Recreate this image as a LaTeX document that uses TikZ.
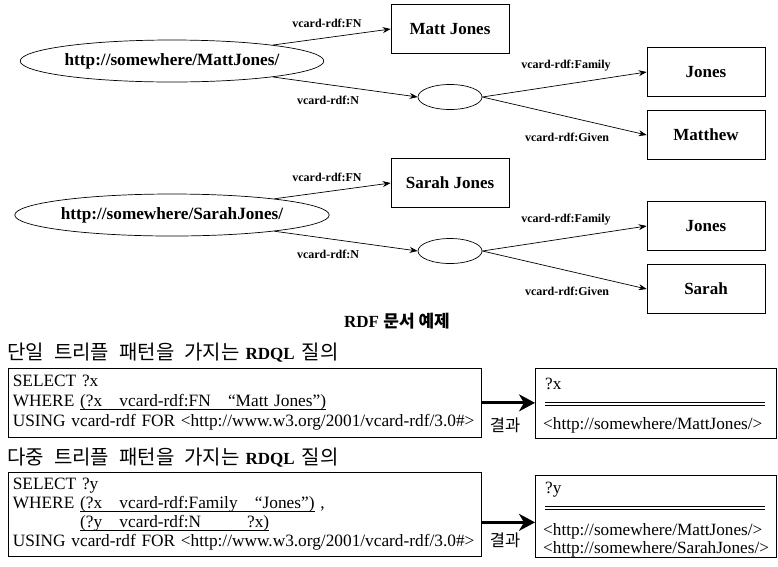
\documentclass[tikz,border=0pt]{standalone}
\usepackage{fontspec}
\setmainfont{Liberation Serif}
\newfontfamily\kr{Noto Sans CJK KR}
\usetikzlibrary{arrows.meta,shapes.geometric}
\newcommand\myul[1]{\setbox0\hbox{#1}\rlap{\rule[-3pt]{\wd0}{0.6pt}}\box0}
\begin{document}
\begin{tikzpicture}[x=1pt,y=-1pt,
  every node/.style={inner sep=0pt},
  uri/.style={draw, ellipse, line width=0.7pt, minimum width=285pt, minimum height=42pt, font=\bfseries\fontsize{17.2}{19}\selectfont},
  blank/.style={draw, ellipse, line width=0.7pt, minimum width=64pt, minimum height=25pt},
  val/.style={draw, line width=0.7pt, minimum width=118pt, minimum height=49pt, font=\bfseries\fontsize{17}{19}\selectfont},
  lbl/.style={font=\bfseries\fontsize{12}{14}\selectfont},
  edge/.style={line width=0.7pt, -{Stealth[length=8pt,width=6pt]}},
  qbox/.style={draw, line width=0.7pt, minimum width=473pt, text width=464pt, align=left},
  rbox/.style={draw, line width=0.7pt, minimum width=241pt},
  rtxt/.style={anchor=west, font=\fontsize{17.2}{20}\selectfont},
  big/.style={line width=3pt, -{Stealth[length=16pt,width=17pt,inset=5pt]}},
  kor/.style={font=\kr\fontsize{16.5}{18}\selectfont},
  ttl/.style={anchor=west, font=\kr\fontsize{20}{22}\selectfont},
]
\useasboundingbox (0,0) rectangle (778,566);

% ---- group 1
\node[uri] (u1) at (172,61) {http://somewhere/MattJones/};
\node[val] (mj) at (450,29) {Matt Jones};
\node[blank] (b1) at (450,97) {};
\node[val] (j1) at (706,72) {Jones};
\node[val] (mw) at (706,135) {Matthew};
\draw[edge] (u1.9) -- (mj.west);
\draw[edge] (u1.-9) -- (b1.west);
\draw[edge] (b1.east) -- (j1.west);
\draw[edge] (b1.east) -- (mw.west);
\node[lbl] (l1) at (327,23) {vcard-rdf:FN};
\node[lbl] (l2) at (328,100) {vcard-rdf:N};
\node[lbl] (l3) at (566,66) {vcard-rdf:Family};
\node[lbl] (l4) at (567,137) {vcard-rdf:Given};

% ---- group 2
\node[uri] (u2) at (172,215) {http://somewhere/SarahJones/};
\node[val] (sj) at (450,183) {Sarah Jones};
\node[blank] (b2) at (450,251) {};
\node[val] (j2) at (706,226) {Jones};
\node[val] (sa) at (706,289) {Sarah};
\draw[edge] (u2.9) -- (sj.west);
\draw[edge] (u2.-9) -- (b2.west);
\draw[edge] (b2.east) -- (j2.west);
\draw[edge] (b2.east) -- (sa.west);
\node[lbl] (l5) at (327,177) {vcard-rdf:FN};
\node[lbl] (l6) at (328,254) {vcard-rdf:N};
\node[lbl] (l7) at (566,220) {vcard-rdf:Family};
\node[lbl] (l8) at (567,291) {vcard-rdf:Given};

% ---- caption
\node (cap) at (397,321) {\bfseries\fontsize{17}{19}\selectfont RDF\ {\kr 문서 예제}};

% ---- query 1
\node[ttl] (t1) at (7,353) {단일\hspace{10pt}트리플\hspace{10pt}패턴을\hspace{10pt}가지는\hspace{6pt}{\rmfamily\bfseries\fontsize{17}{19}\selectfont RDQL}\hspace{7pt}질의};
\node[qbox, minimum height=69pt, anchor=north west, font=\fontsize{17.3}{20}\selectfont] (q1) at (8,368)
  {SELECT ?x\\
   WHERE \myul{(?x\ \ \ vcard-rdf:FN\ \ \ “Matt Jones”)}\\
   USING vcard-rdf FOR <http://www.w3.org/2001/vcard-rdf/3.0\#>};
\node[rbox, minimum height=70pt, anchor=north west] (r1) at (535,368) {};
\node[rtxt] (r1a) at (545,384) {?x};
\draw[line width=0.6pt] (545,402) -- (765,402);
\draw[line width=0.6pt] (545,405) -- (765,405);
\node[rtxt] (r1b) at (543,425) {<http://somewhere/MattJones/>};
\draw[big] (q1.east) -- (q1.east -| r1.west);
\node[kor] (k1) at (505,425) {결과};

% ---- query 2
\node[ttl] (t2) at (7,458) {다중\hspace{10pt}트리플\hspace{10pt}패턴을\hspace{10pt}가지는\hspace{6pt}{\rmfamily\bfseries\fontsize{17}{19}\selectfont RDQL}\hspace{7pt}질의};
\node[qbox, minimum height=84pt, anchor=north west, font=\fontsize{17.3}{19}\selectfont] (q2) at (8,472)
  {SELECT ?y\\
   WHERE \myul{(?x\ \ \ vcard-rdf:Family\ \ \ “Jones”)}\ ,\\
   \phantom{WHERE }\myul{(?y\ \ \ vcard-rdf:N\hspace{46pt}?x)}\\
   USING vcard-rdf FOR <http://www.w3.org/2001/vcard-rdf/3.0\#>};
\node[rbox, minimum height=82pt, anchor=north west] (r2) at (535,475) {};
\node[rtxt] (r2a) at (545,490) {?y};
\draw[line width=0.6pt] (545,506) -- (765,506);
\draw[line width=0.6pt] (545,509) -- (765,509);
\node[rtxt] (r2b) at (543,531) {<http://somewhere/MattJones/>};
\node[rtxt] (r2c) at (543,549) {<http://somewhere/SarahJones/>};
\coordinate (a2) at ([yshift=-8pt]q2.east);
\draw[big] (a2) -- (a2 -| r2.west);
\node[kor] (k2) at (505,540) {결과};
\end{tikzpicture}
\end{document}
